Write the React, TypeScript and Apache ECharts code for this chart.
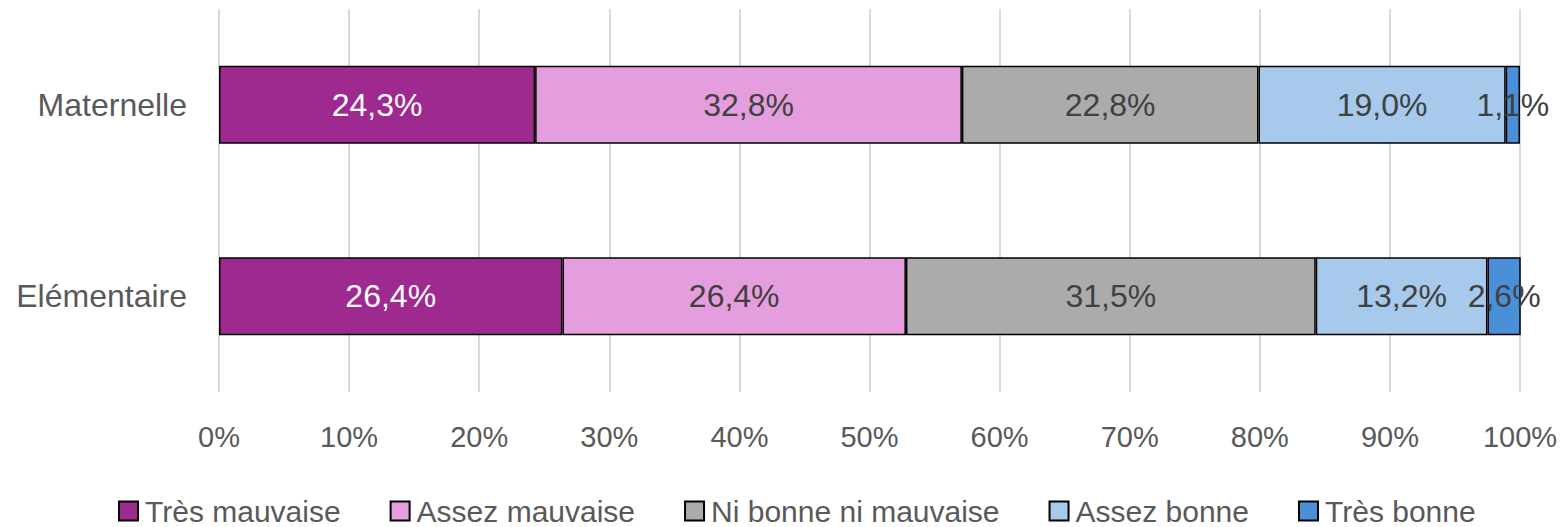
import React, { useEffect, useRef } from "react";
import * as echarts from "echarts";

const categories = ["Maternelle", "Elémentaire"];
const seriesNames = ["Très mauvaise", "Assez mauvaise", "Ni bonne ni mauvaise", "Assez bonne", "Très bonne"];
const tresMauvaise = [24.3, 26.4];
const assezMauvaise = [32.8, 26.4];
const niBonne = [22.8, 31.5];
const assezBonne = [19.0, 13.2];
const tresBonne = [1.1, 2.6];
const colors = ["#9E2A8F", "#E59EDD", "#ABABAB", "#A6C9EC", "#4A90D9"];
const labelColors = ["#FFFFFF", "#404040", "#404040", "#404040", "#404040"];

const FONT = "Liberation Sans";

export default function App() {
  const ref = useRef<HTMLDivElement>(null);
  useEffect(() => {
    const chart = echarts.init(ref.current!, null, { renderer: "svg" });
    const values = [tresMauvaise, assezMauvaise, niBonne, assezBonne, tresBonne];
    chart.setOption({
      animation: false,
      textStyle: { fontFamily: FONT },
      grid: { left: 219, right: 42, top: 9, bottom: 135, containLabel: false },
      xAxis: {
        type: "value",
        min: 0,
        max: 100,
        interval: 10,
        axisLabel: {
          formatter: (v: number) => v + "%",
          fontSize: 29,
          color: "#595959",
          margin: 30,
          fontFamily: FONT,
        },
        splitLine: { lineStyle: { color: "#D9D9D9", width: 2 } },
        axisLine: { show: false },
        axisTick: { show: false },
      },
      yAxis: {
        type: "category",
        data: categories,
        inverse: true,
        axisLabel: { fontSize: 32, color: "#595959", margin: 32, fontFamily: FONT },
        axisLine: { show: false },
        axisTick: { show: false },
      },
      legend: {
        top: 494,
        left: 116,
        padding: 2,
        itemWidth: 19,
        itemHeight: 19,
        itemGap: 49,
        textStyle: {
          fontSize: 30,
          lineHeight: 30,
          color: "#595959",
          fontFamily: FONT,
          padding: [0, 0, 0, 2],
        },
        data: seriesNames.map((n, i) => ({
          name: n,
          icon: "rect",
          itemStyle: { color: colors[i], borderColor: "#000", borderWidth: 2 },
        })),
      },
      series: seriesNames.map((name, i) => ({
        name,
        type: "bar",
        stack: "total",
        barWidth: 78,
        data: values[i],
        itemStyle: { color: colors[i], borderColor: "#000", borderWidth: 1.5 },
        label: {
          show: true,
          position: "inside",
          formatter: (p: any) => p.value.toFixed(1).replace(".", ",") + "%",
          fontSize: 32,
          color: labelColors[i],
          fontFamily: FONT,
        },
        labelLayout: { hideOverlap: false },
      })),
    });
    return () => chart.dispose();
  }, []);
  return (
    <div
      ref={ref}
      style={{ position: "absolute", left: 0, top: 0, width: 1562, height: 527 }}
    />
  );
}
